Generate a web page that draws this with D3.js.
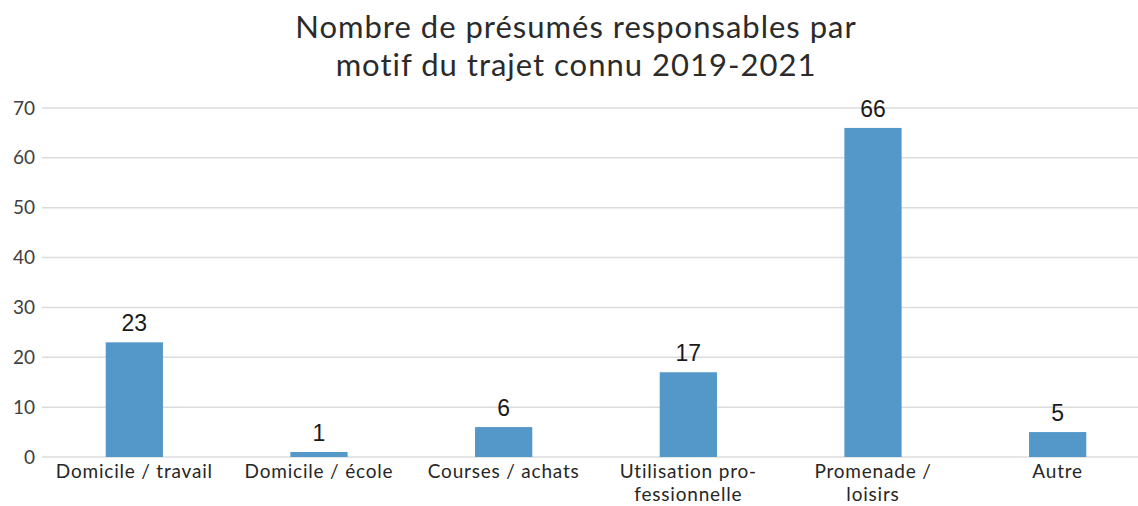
<!DOCTYPE html>
<html><head><meta charset="utf-8">
<script src="https://cdn.jsdelivr.net/npm/d3@7"></script>
<style>body{margin:0;background:#fff;}svg{display:block;}</style>
</head><body>
<svg id="c" width="1138" height="506"></svg>
<script>
const categories = [["Domicile / travail"],["Domicile / école"],["Courses / achats"],["Utilisation pro-","fessionnelle"],["Promenade /","loisirs"],["Autre"]];
const values = [23, 1, 6, 17, 66, 5];
const yTicks = [0, 10, 20, 30, 40, 50, 60, 70];
const titleLines = ["Nombre de présumés responsables par", "motif du trajet connu 2019-2021"];

const svg = d3.select("#c");
const x = d3.scaleBand().domain(d3.range(categories.length)).range([42, 1150]).paddingInner(0.69).paddingOuter(0.345);
const y = d3.scaleLinear().domain([0, 70]).range([457, 108]);

svg.append("g").selectAll("line").data(yTicks).join("line")
  .attr("x1", 42).attr("x2", 1138)
  .attr("y1", d => y(d)).attr("y2", d => y(d))
  .attr("stroke", "#dcdcdc").attr("stroke-width", 1.5);

const ya = svg.append("g").attr("transform", "translate(42,0)")
  .call(d3.axisLeft(y).tickValues(yTicks).tickSize(0).tickPadding(7));
ya.select(".domain").remove();
ya.selectAll("text").attr("font-family", "Lato, sans-serif").attr("font-size", 19).attr("fill", "#404040");

svg.append("g").selectAll("rect").data(values).join("rect")
  .attr("x", (d, i) => x(i)).attr("width", x.bandwidth())
  .attr("y", d => y(d)).attr("height", d => y(0) - y(d))
  .attr("fill", "#5398c9");

svg.append("g").selectAll("text").data(values).join("text")
  .attr("x", (d, i) => x(i) + x.bandwidth() / 2).attr("y", d => y(d) - 11)
  .attr("text-anchor", "middle").attr("font-family", "'Liberation Sans', Arial, sans-serif")
  .attr("font-size", 23).attr("fill", "#1a1a1a").text(d => d);

const xl = svg.append("g").selectAll("text").data(categories).join("text")
  .attr("x", (d, i) => x(i) + x.bandwidth() / 2).attr("y", 478)
  .attr("text-anchor", "middle").attr("font-family", "Lato, sans-serif")
  .attr("font-size", 19).attr("letter-spacing", 0.8).attr("fill", "#262626");
xl.selectAll("tspan").data(d => d).join("tspan")
  .attr("x", function(){ return this.parentNode.getAttribute("x"); })
  .attr("dy", (d, j) => j === 0 ? 0 : 23).text(d => d);

svg.append("g").selectAll("text").data(titleLines).join("text")
  .attr("text-anchor", "middle").attr("font-family", "Lato, sans-serif")
  .attr("font-size", 31).attr("letter-spacing", 1).attr("fill", "#2b2b2b")
  .attr("x", 576).attr("y", (d, i) => 38 + i * 38).text(d => d);
</script>
</body></html>
